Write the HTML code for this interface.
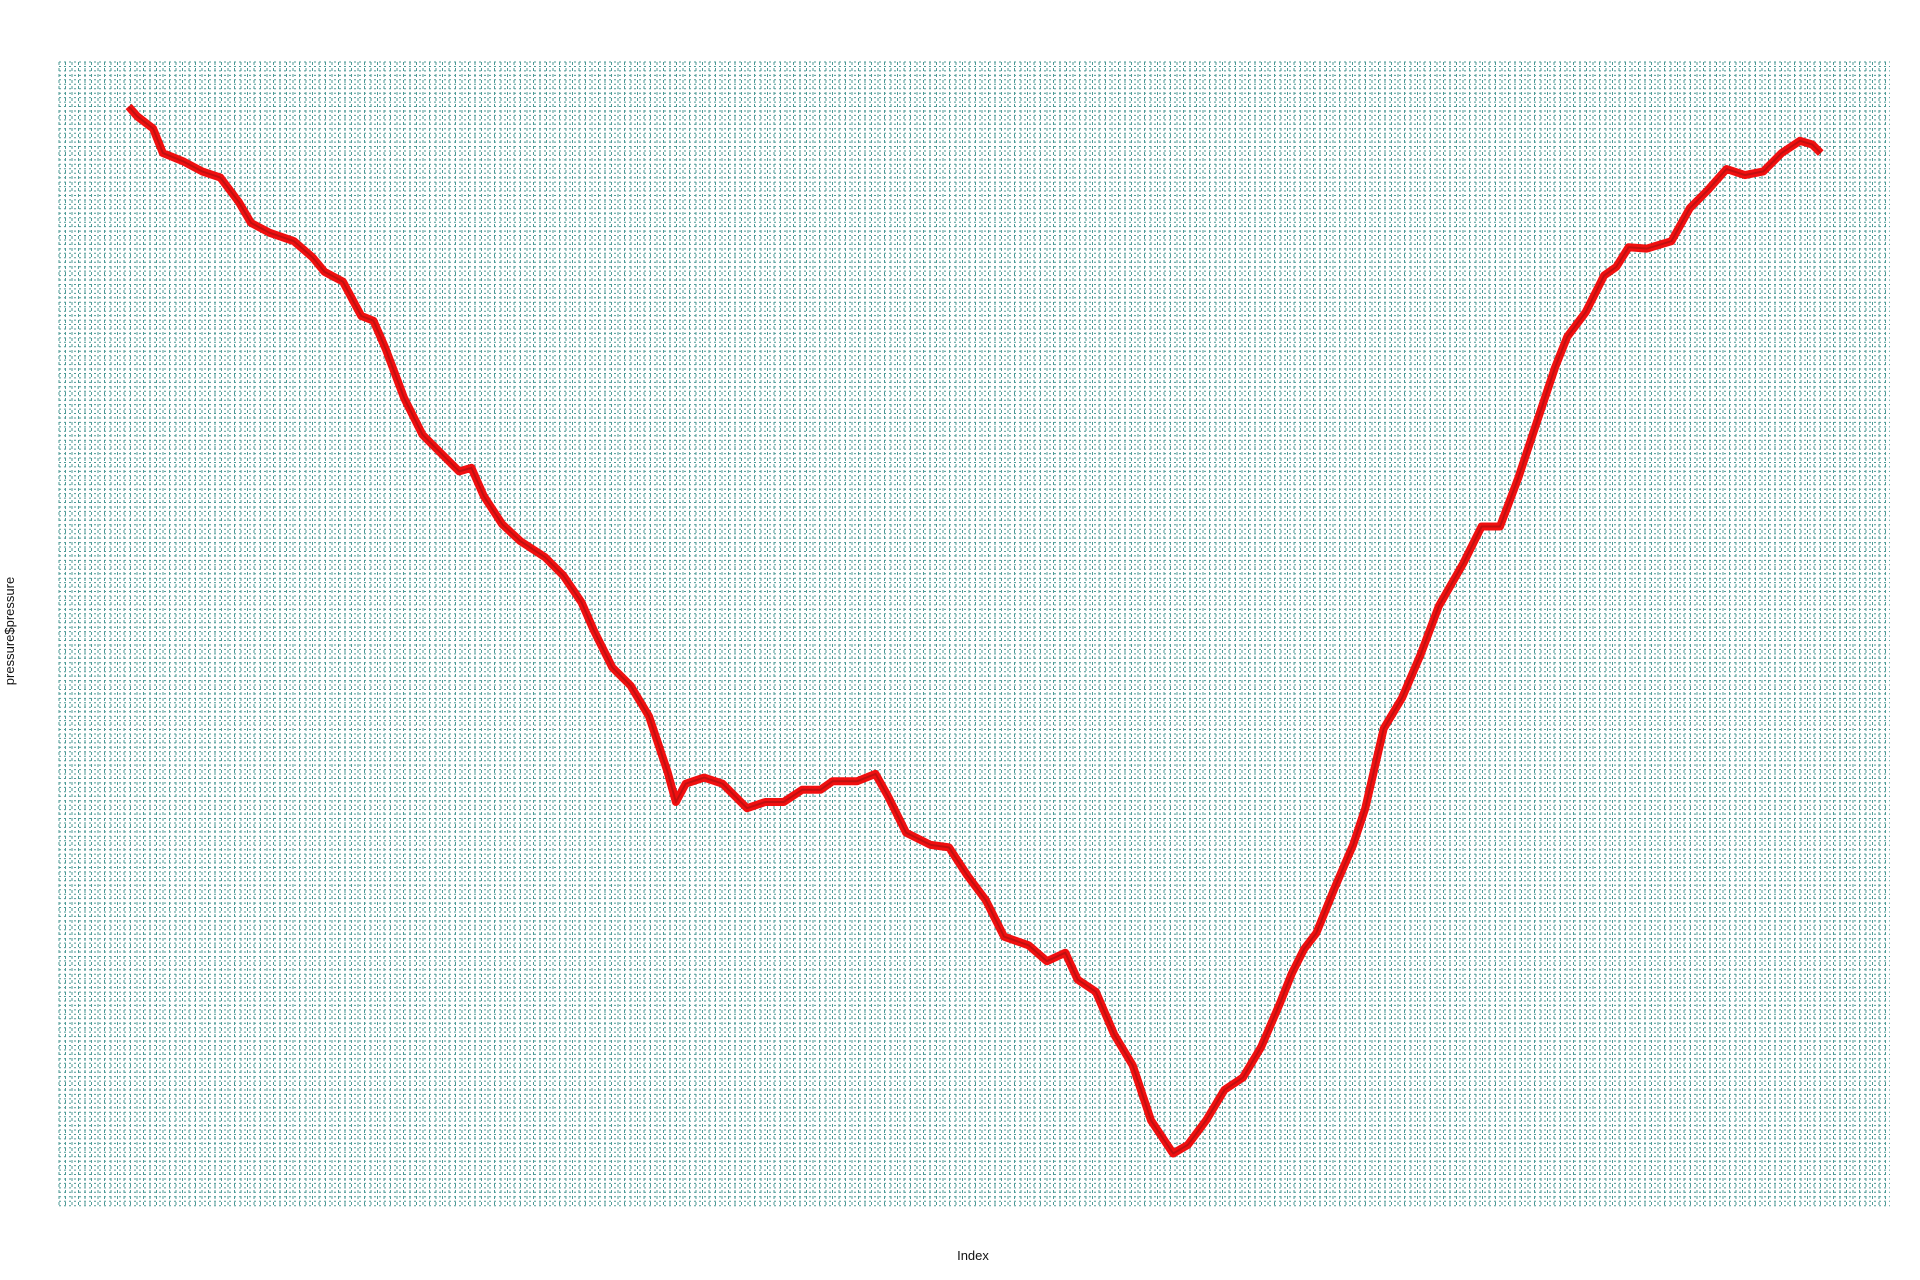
<!DOCTYPE html>
<html><head><meta charset="utf-8"><style>
html,body{margin:0;padding:0;background:#fff;}
svg{display:block;}
text{font-family:"Liberation Sans",sans-serif;}
</style></head><body>
<svg id="chart" width="1920" height="1280" viewBox="0 0 1920 1280" xmlns="http://www.w3.org/2000/svg">
<g id="grid"></g>
<g id="series"></g>
<text x="973" y="1260" font-size="13" text-anchor="middle" fill="#111">Index</text>
<text x="0" y="0" font-size="13" text-anchor="middle" fill="#111" transform="translate(14,631) rotate(-90)">pressure$pressure</text>
</svg>
<script>
const indexValues=[0,7,20,28,45,60,75,90,100,115,135,150,160,175,190,200,210,225,240,255,270,280,290,305,320,340,355,370,380,395,410,425,440,447,455,470,485,505,520,535,550,565,575,595,610,620,635,655,670,685,700,715,735,750,765,775,790,805,820,835,853,865,880,895,910,925,940,950,960,970,985,1000,1010,1025,1040,1055,1070,1090,1105,1120,1135,1150,1165,1175,1190,1205,1215,1225,1240,1260,1275,1290,1305,1320,1335,1350,1365,1375,1382];
const pressureValues=[913,905,895,875,868,860,855,835,818,810,803,790,778,770,742,738,715,675,645,630,615,618,595,572,558,545,530,508,485,455,440,415,370,345,360,365,360,340,345,345,355,355,362,362,368,350,320,310,308,285,265,235,228,215,222,200,190,155,130,85,58,65,85,110,120,145,180,205,225,238,275,310,340,405,430,465,505,540,570,570,610,655,700,725,745,775,782,798,797,803,830,845,862,857,860,875,885,882,875];
const X0=128.6,X1=1820.8,IDX_MAX=1382;
function xScale(i){return X0+(i/IDX_MAX)*(X1-X0);}
function yScale(v){return (1000-v)*1.2245;}
const NS="http://www.w3.org/2000/svg";
const grid=document.getElementById('grid');
const gx0=59,gx1=1890,gy0=62,gy1=1207;
for(let y=gy0;y<=gy1;y+=4.45){
  const l=document.createElementNS(NS,'line');
  
  
  l.setAttribute('x1',gx0);l.setAttribute('x2',gx1);l.setAttribute('y1',y.toFixed(1));l.setAttribute('y2',y.toFixed(1));
  l.setAttribute('stroke','#4d9a96');l.setAttribute('stroke-width','1');l.setAttribute('stroke-dasharray','2,3');
  grid.appendChild(l);
}
for(let x=gx0;x<=gx1;x+=6.5){
  const l=document.createElementNS(NS,'line');
  
  
  l.setAttribute('x1',x.toFixed(1));l.setAttribute('x2',x.toFixed(1));l.setAttribute('y1',gy0);l.setAttribute('y2',gy1);
  l.setAttribute('stroke','#4d9a96');l.setAttribute('stroke-width','1');l.setAttribute('stroke-dasharray','3,3');
  grid.appendChild(l);
}
const pts=indexValues.map((d,k)=>xScale(d).toFixed(1)+','+yScale(pressureValues[k]).toFixed(1)).join(' ');
const series=document.getElementById('series');
const pl=document.createElementNS(NS,'polyline');


pl.setAttribute('points',pts);pl.setAttribute('fill','none');pl.setAttribute('stroke','#f01010');
pl.setAttribute('stroke-width','8');pl.setAttribute('stroke-linejoin','round');
series.appendChild(pl);
const pl2=document.createElementNS(NS,'polyline');


pl2.setAttribute('points',pts);pl2.setAttribute('fill','none');pl2.setAttribute('stroke','#c01010');
pl2.setAttribute('stroke-width','2');pl2.setAttribute('stroke-linejoin','round');
series.appendChild(pl2);
</script>
</body></html>
